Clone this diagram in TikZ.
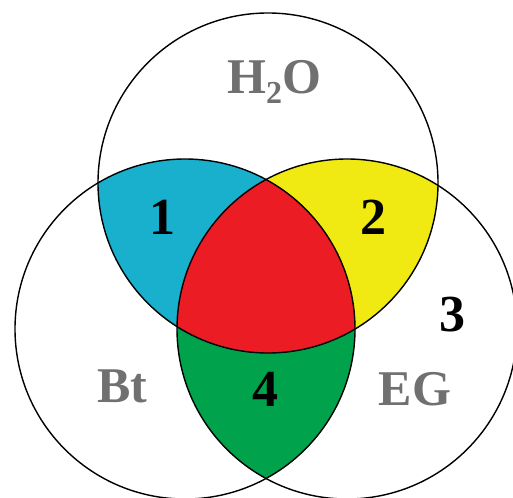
\documentclass[tikz,border=0pt]{standalone}
\usepackage{fontspec}
\setmainfont{Liberation Serif}
\definecolor{vblue}{RGB}{24,176,204}
\definecolor{vyellow}{RGB}{240,234,18}
\definecolor{vred}{RGB}{236,28,36}
\definecolor{vgreen}{RGB}{0,163,76}
\definecolor{vgray}{RGB}{112,112,112}
\begin{document}
\begin{tikzpicture}[x=1pt,y=-1pt,
  setlabel/.style={text=vgray,font=\fontsize{50}{50}\selectfont\bfseries,inner sep=0pt},
  numlabel/.style={text=black,font=\fontsize{52}{52}\selectfont\bfseries,inner sep=0pt},
  ring/.style={draw=black,line width=1.4pt}]
\useasboundingbox (0,0) rectangle (513,497);
\coordinate (T) at (268,183);
\coordinate (L) at (185,329);
\coordinate (R) at (347,329);
\def\rr{170pt}
% pairwise intersections
\begin{scope}\clip (T) circle[radius=\rr];\fill[vblue] (L) circle[radius=\rr];\end{scope}
\begin{scope}\clip (T) circle[radius=\rr];\fill[vyellow] (R) circle[radius=\rr];\end{scope}
\begin{scope}\clip (L) circle[radius=\rr];\fill[vgreen] (R) circle[radius=\rr];\end{scope}
% triple intersection
\begin{scope}\clip (T) circle[radius=\rr];\clip (L) circle[radius=\rr];\fill[vred] (R) circle[radius=\rr];\end{scope}
% circles
\draw[ring] (T) circle[radius=\rr];
\draw[ring] (L) circle[radius=\rr];
\draw[ring] (R) circle[radius=\rr];
% labels
\node[setlabel] (h2o) at (274,82) {H\raisebox{-0.45ex}{\fontsize{32}{32}\selectfont 2}O};
\node[setlabel] (bt) at (122,386) {Bt};
\node[setlabel] (eg) at (415,389) {EG};
\node[numlabel] (n1) at (162,217) {1};
\node[numlabel] (n2) at (373,217) {2};
\node[numlabel] (n3) at (452,315) {3};
\node[numlabel] (n4) at (265,389) {4};
\end{tikzpicture}
\end{document}
